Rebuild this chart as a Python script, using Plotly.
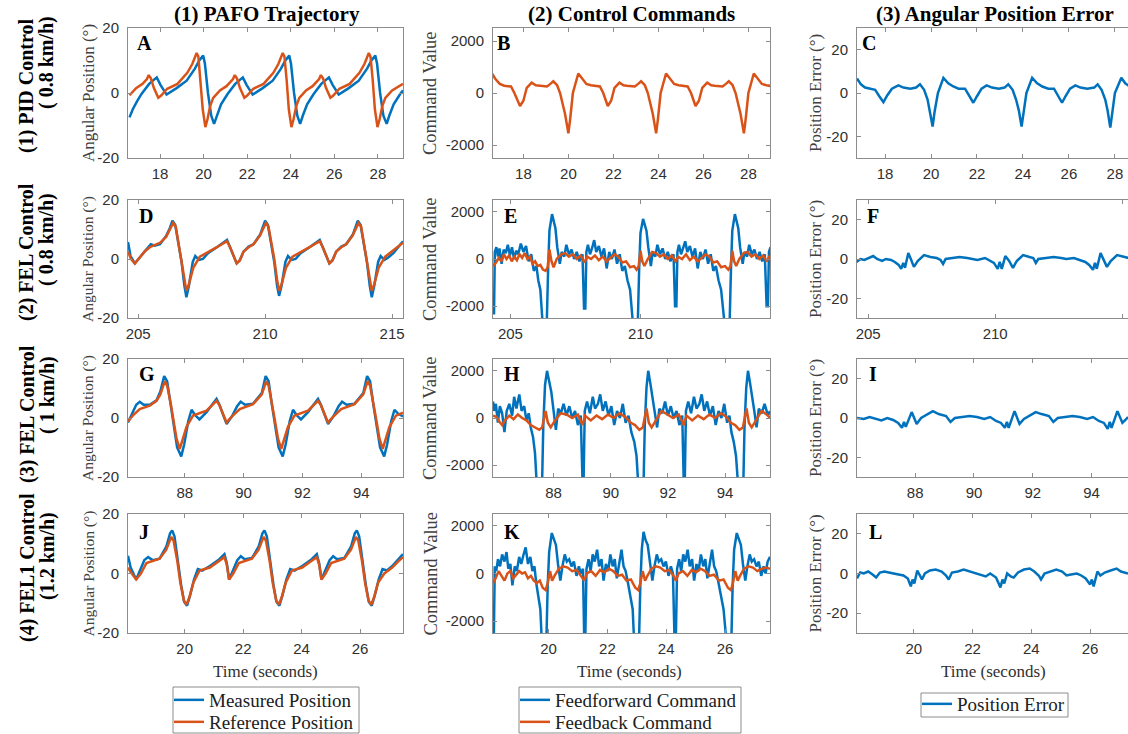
import plotly.graph_objects as go

W, H = 1128, 734
BLUE = "#0072BD"
ORANGE = "#D95319"
SERIF = "Liberation Serif, Times New Roman, serif"
SANS = "Liberation Sans, Arial, sans-serif"

# ---------------- data (time, value) ----------------
A_meas = [(16.60,-7.5),(16.75,-5),(16.95,-2.5),(17.15,-0.3),(17.50,2.8),(17.85,4.8),(18.02,2.5),(18.30,-0.5),
          (18.76,1.5),(19.22,3.8),(19.60,7.5),(19.80,10),(19.98,11.5),(20.06,9),(20.20,0),(20.35,-7),(20.48,-9.5),
          (20.60,-7),(20.80,-3.5),(21.10,-0.3),(21.45,2.8),(21.80,4.8),(21.97,2.5),(22.25,-0.5),(22.71,1.5),(23.17,3.8),
          (23.55,7.5),(23.75,10),(23.93,11.5),(24.01,9),(24.15,0),(24.30,-7),(24.43,-9.5),(24.55,-7),(24.75,-3.5),
          (25.05,-0.3),(25.40,2.8),(25.75,4.8),(25.92,2.5),(26.20,-0.5),(26.66,1.5),(27.12,3.8),(27.50,7.5),(27.70,10),
          (27.88,11.5),(27.96,9),(28.10,0),(28.25,-7),(28.40,-9.5),(28.52,-7),(28.72,-3.5),(29.02,-0.3),(29.15,0.8)]
A_ref = [(16.60,-0.7),(16.90,1.5),(17.20,2.8),(17.40,4.3),(17.48,5.5),(17.58,4.5),(17.72,1.5),(17.92,-1.5),(18.05,-0.8),
         (18.33,1.3),(18.80,2.8),(19.25,6.2),(19.48,8.9),(19.68,12.3),(19.76,11.2),(19.86,4),(19.96,-5),(20.08,-10.5),
         (20.18,-8),(20.30,-4),(20.44,-1.5),(20.75,0.8),(21.05,2.1),(21.35,4.3),(21.43,5.5),(21.53,4.5),(21.67,1.5),
         (21.87,-1.5),(22.00,-0.8),(22.28,1.3),(22.75,2.8),(23.20,6.2),(23.43,8.9),(23.63,12.3),(23.71,11.2),(23.81,4),
         (23.91,-5),(24.03,-10.5),(24.13,-8),(24.25,-4),(24.39,-1.5),(24.70,0.8),(25.00,2.1),(25.30,4.3),(25.38,5.5),
         (25.48,4.5),(25.62,1.5),(25.82,-1.5),(25.95,-0.8),(26.23,1.3),(26.70,2.8),(27.15,6.2),(27.38,8.9),(27.58,12.3),
         (27.66,11.2),(27.76,4),(27.86,-5),(27.98,-10.5),(28.08,-8),(28.20,-4),(28.34,-1.5),(28.65,0.8),(28.95,2.1),(29.15,2.8)]
B_fb = [(16.60,760),(16.75,550),(16.95,350),(17.15,280),(17.45,250),(17.60,0),(17.85,-500),(18.00,-300),(18.15,200),
        (18.37,400),(18.55,300),(18.70,280),(19.05,250),(19.20,350),(19.33,450),(19.50,300),(19.63,0),(19.85,-800),
        (20.00,-1550),(20.08,-1000),(20.20,0),(20.44,750),(20.60,550),(20.80,350),(21.00,300),(21.40,250),(21.55,0),
        (21.75,-500),(21.90,-300),(22.05,200),(22.27,400),(22.45,300),(22.60,280),(22.95,250),(23.10,350),(23.23,450),
        (23.40,300),(23.53,0),(23.75,-800),(23.90,-1550),(23.98,-1000),(24.10,0),(24.34,750),(24.50,550),(24.70,350),
        (24.90,300),(25.30,250),(25.45,0),(25.65,-500),(25.80,-300),(25.95,200),(26.17,400),(26.35,300),(26.50,280),
        (26.85,250),(27.00,350),(27.13,450),(27.30,300),(27.43,0),(27.65,-800),(27.80,-1550),(27.88,-1000),(28.00,0),
        (28.24,750),(28.40,550),(28.60,350),(28.80,300),(29.10,250)]
C_err = [(16.78,6.7),(16.95,4),(17.13,2.5),(17.35,2),(17.57,1.5),(17.75,-1.5),(17.93,-4.2),(18.10,-1),(18.30,2),
         (18.58,3.5),(18.80,2.5),(19.10,2),(19.35,2.5),(19.52,4),(19.70,1.5),(19.85,-3),(19.95,-8),(20.07,-15.5),
         (20.15,-9),(20.30,0),(20.54,7),(20.75,4.5),(20.97,3),(21.20,2),(21.48,2),(21.65,-1),(21.84,-4.5),(22.00,-1.5),
         (22.20,2),(22.42,3.5),(22.65,2.5),(22.95,2),(23.20,2.5),(23.36,4),(23.55,1.5),(23.70,-3),(23.82,-8),
         (23.94,-15.5),(24.02,-9),(24.15,0),(24.40,7),(24.62,4.5),(24.84,3),(25.10,2),(25.35,2),(25.52,-1),(25.70,-4.5),
         (25.85,-1.5),(26.05,2),(26.28,3.5),(26.50,2.5),(26.80,2),(27.10,2.5),(27.25,4),(27.42,1.5),(27.58,-3),
         (27.68,-8),(27.80,-16),(27.88,-9),(28.00,0),(28.28,7),(28.45,4.5),(28.65,3),(28.75,2.5)]

D_meas = [(204.60,5.8),(204.70,1),(204.87,-1.5),(205.05,0.5),(205.30,3),(205.50,5),(205.65,4.5),(205.86,5),(206.10,7.8),
          (206.25,10.5),(206.35,13),(206.46,11.5),(206.60,4),(206.71,-1),(206.82,-9),(206.90,-13),(207.00,-9),(207.15,-1),
          (207.25,1),(207.40,-0.3),(207.55,0),(207.75,2),(208.10,4),(208.35,5.5),(208.50,6.5),(208.62,4),(208.88,-1.5),
          (209.00,-0.5),(209.15,2.5),(209.35,4.2),(209.54,5),(209.80,8.2),(209.92,11),(210.00,13),(210.11,11.5),
          (210.25,4),(210.36,-1),(210.47,-9),(210.55,-12.5),(210.65,-9),(210.80,-1),(210.90,1),(211.05,-0.3),(211.20,0),
          (211.40,2),(211.75,4),(212.00,5.5),(212.15,6.5),(212.27,4),(212.53,-1.5),(212.65,-0.5),(212.80,2.5),
          (213.00,4.2),(213.19,5),(213.45,8.2),(213.57,11),(213.65,13),(213.76,11.5),(213.90,4),(214.01,-1),
          (214.12,-9),(214.20,-13),(214.30,-9),(214.45,-1),(214.55,1),(214.70,-0.3),(214.85,0.5),(215.05,2),(215.43,6)]
D_ref = [(204.60,2.5),(204.72,0),(204.87,-1.5),(205.05,0.5),(205.25,2.5),(205.46,4),(205.86,5.5),(206.10,7.5),
         (206.25,10),(206.38,12.2),(206.48,11),(206.60,5),(206.71,0),(206.82,-7),(206.90,-10.8),(207.00,-8.5),
         (207.17,-3),(207.43,0.8),(207.70,2),(208.10,4),(208.35,5.3),(208.50,6),(208.62,4),(208.88,-1.5),(209.00,-0.5),
         (209.15,2.5),(209.35,4),(209.54,5),(209.80,8),(209.92,10.5),(210.03,12.2),(210.13,11),(210.25,5),(210.36,0),
         (210.47,-7),(210.55,-10.8),(210.65,-8.5),(210.82,-3),(211.08,0.8),(211.35,2),(211.75,4),(212.00,5.3),
         (212.15,6),(212.27,4),(212.53,-1.5),(212.65,-0.5),(212.80,2.5),(213.00,4),(213.19,5),(213.45,8),(213.57,10.5),
         (213.68,12.2),(213.78,11),(213.90,5),(214.01,0),(214.12,-7),(214.20,-10.8),(214.30,-8.5),(214.47,-3),
         (214.73,0.8),(215.00,2.5),(215.43,5.5)]
E_ff = [(204.33,-2300),(204.37,-2300),(204.40,300),(204.46,500),(204.52,100),(204.58,450),(204.66,-200),(204.74,400),
        (204.82,250),(204.90,600),(204.98,150),(205.06,500),(205.14,0),(205.22,350),(205.30,200),(205.40,650),
        (205.50,300),(205.60,550),(205.70,-100),(205.80,200),(205.90,-500),(206.00,-300),(206.07,-900),(206.15,-1300),
        (206.23,-2600),(206.40,-2600),(206.45,-400),(206.50,1200),(206.60,1900),(206.67,1500),(206.73,1300),
        (206.80,500),(206.90,-200),(206.97,300),(207.07,100),(207.15,600),(207.25,200),(207.35,400),(207.45,0),
        (207.55,300),(207.65,-100),(207.77,200),(207.83,-2100),(207.88,-2100),(207.92,300),(207.98,600),(208.06,200),
        (208.15,500),(208.22,800),(208.30,300),(208.40,550),(208.50,100),(208.60,450),(208.70,-400),(208.80,300),
        (208.90,0),(209.00,400),(209.10,-200),(209.20,200),(209.30,-500),(209.40,-300),(209.50,-900),(209.60,-1300),
        (209.70,-2600),(209.90,-2600),(209.95,-400),(210.00,1100),(210.10,1700),(210.17,1400),(210.23,1200),
        (210.30,500),(210.40,-300),(210.47,300),(210.57,100),(210.65,600),(210.75,200),(210.85,450),(210.95,0),
        (211.05,300),(211.15,-100),(211.27,200),(211.33,-2000),(211.38,-2000),(211.42,300),(211.48,600),(211.56,200),
        (211.65,500),(211.72,750),(211.80,300),(211.90,550),(212.00,100),(212.10,450),(212.20,-400),(212.30,300),
        (212.40,0),(212.50,400),(212.60,-200),(212.70,200),(212.80,-500),(212.90,-300),(213.00,-900),(213.10,-1300),
        (213.22,-2600),(213.43,-2600),(213.48,-400),(213.53,1200),(213.63,1900),(213.70,1500),(213.76,1300),
        (213.83,500),(213.93,-200),(214.00,300),(214.10,100),(214.18,600),(214.28,200),(214.38,400),(214.48,0),
        (214.58,300),(214.68,-100),(214.78,200),(214.85,-2000),(214.90,-2000),(214.94,300),(215.00,500)]
E_fb = [(204.33,-300),(204.45,-150),(204.55,50),(204.65,-100),(204.75,200),(204.85,0),(204.95,150),(205.05,-100),
        (205.15,100),(205.25,-50),(205.35,200),(205.45,50),(205.55,250),(205.65,0),(205.75,100),(205.85,-200),
        (205.95,-100),(206.05,-300),(206.15,-250),(206.25,-450),(206.35,-500),(206.43,-350),(206.50,400),(206.58,-100),
        (206.66,-350),(206.78,0),(206.95,200),(207.10,250),(207.25,100),(207.40,200),(207.55,0),(207.70,150),
        (207.85,-150),(207.95,100),(208.10,0),(208.25,150),(208.40,-50),(208.55,100),(208.70,-100),(208.85,50),
        (209.00,200),(209.15,100),(209.30,-150),(209.45,-100),(209.60,-350),(209.75,-300),(209.85,-450),(209.93,-300),
        (210.00,350),(210.07,-100),(210.15,-300),(210.28,0),(210.45,300),(210.60,250),(210.75,100),(210.90,200),
        (211.05,0),(211.20,150),(211.35,-100),(211.45,100),(211.60,0),(211.75,200),(211.90,-50),(212.05,100),
        (212.20,-100),(212.35,50),(212.50,200),(212.65,100),(212.80,-150),(212.95,-100),(213.10,-350),(213.25,-300),
        (213.38,-450),(213.46,-300),(213.53,350),(213.60,-100),(213.68,-300),(213.80,0),(213.97,250),(214.12,300),
        (214.27,100),(214.42,200),(214.57,0),(214.72,150),(214.85,-100),(214.95,100),(215.00,50)]
F_err = [(204.54,-1.5),(204.70,0),(204.85,-0.5),(205.00,0.5),(205.20,1.5),(205.35,0),(205.55,-1),(205.70,0),
         (205.90,-0.5),(206.05,-1.5),(206.20,-3),(206.30,-5),(206.38,-2),(206.45,-4.5),(206.58,3),(206.68,0),
         (206.80,-4),(206.95,-1),(207.20,2),(207.45,1),(207.70,0.5),(207.85,-0.5),(207.95,-2.5),(208.05,0),(208.30,0.5),
         (208.60,1),(208.90,0.5),(209.10,0),(209.30,-0.5),(209.60,0.5),(209.80,-1),(209.95,-2),(210.10,-5),
         (210.18,-1.5),(210.26,-5),(210.40,1.5),(210.55,-1),(210.70,-4.5),(210.85,-1),(211.10,2),(211.35,1),
         (211.50,0.5),(211.60,-2),(211.70,0),(212.00,0.5),(212.30,1),(212.60,0.5),(212.80,0),(213.10,0.5),
         (213.30,-0.5),(213.55,-1.5),(213.70,-3),(213.85,-5.5),(213.93,-2),(214.00,-5),(214.15,3),(214.25,0),
         (214.40,-4),(214.55,-1),(214.80,2),(215.10,1),(215.25,0.5)]

G_meas = [(86.07,-1.5),(86.20,1.5),(86.35,4.5),(86.47,5.5),(86.60,4.5),(86.81,4.5),(87.04,6),(87.17,9),(87.30,14.2),
          (87.40,12.5),(87.52,4),(87.62,-2),(87.74,-10),(87.88,-13),(87.98,-9),(88.12,-1),(88.23,2.8),(88.35,1),
          (88.50,-0.5),(88.74,2),(89.08,6.5),(89.18,4.5),(89.42,-2),(89.60,0.5),(89.78,4),(89.90,5.5),(90.05,4.5),
          (90.32,4.8),(90.62,8.5),(90.75,14.2),(90.85,12.5),(90.97,4),(91.07,-2),(91.19,-10),(91.33,-13),(91.43,-9),
          (91.57,-1),(91.68,2.8),(91.80,1),(91.95,-0.5),(92.19,2),(92.53,6.5),(92.63,4.5),(92.87,-2),(93.05,0.5),
          (93.23,4),(93.35,5.5),(93.50,4.5),(93.77,4.8),(94.07,8.5),(94.20,14.2),(94.30,12.5),(94.42,4),(94.52,-2),
          (94.64,-10),(94.78,-13),(94.88,-9),(95.02,-1),(95.13,2.8),(95.25,1.5),(95.42,0.5)]
G_ref = [(86.07,-1.2),(86.25,1),(86.47,3),(86.81,4.2),(87.04,5.8),(87.17,8),(87.32,12.5),(87.40,11),(87.52,5),
         (87.60,0),(87.72,-7),(87.83,-10.5),(87.92,-7.5),(88.06,-3),(88.28,0.8),(88.74,2.5),(89.08,5.8),(89.17,4.5),
         (89.42,-1.5),(89.60,0.5),(89.87,3),(90.32,4.7),(90.62,8),(90.77,12.5),(90.85,11),(90.97,5),(91.05,0),
         (91.17,-7),(91.28,-10.5),(91.37,-7.5),(91.51,-3),(91.73,0.8),(92.19,2.5),(92.53,5.8),(92.62,4.5),(92.87,-1.5),
         (93.05,0.5),(93.32,3),(93.77,4.7),(94.07,8),(94.22,12.5),(94.30,11),(94.42,5),(94.50,0),(94.62,-7),
         (94.73,-10.5),(94.82,-7.5),(94.96,-3),(95.18,0.8),(95.42,1.8)]
H_ff = [(85.88,700),(85.92,300),(85.98,600),(86.05,-200),(86.12,500),(86.20,200),(86.28,-600),(86.36,300),(86.45,600),
        (86.55,100),(86.62,900),(86.70,400),(86.80,1000),(86.88,300),(86.97,500),(87.05,-100),(87.13,200),(87.20,-400),
        (87.28,-800),(87.35,-1500),(87.40,-2600),(87.60,-2600),(87.64,-300),(87.70,1400),(87.77,2000),(87.85,1500),
        (87.92,1100),(88.00,300),(88.08,-500),(88.16,400),(88.25,200),(88.35,600),(88.45,100),(88.55,500),(88.65,0),
        (88.75,300),(88.85,-300),(88.95,100),(89.01,-2600),(89.05,-2600),(89.09,300),(89.17,700),(89.27,200),
        (89.37,900),(89.45,400),(89.55,600),(89.63,1000),(89.72,300),(89.82,700),(89.92,100),(90.02,500),(90.12,-300),
        (90.22,300),(90.32,0),(90.42,600),(90.52,-200),(90.62,100),(90.72,-600),(90.82,-1000),(90.90,-1600),
        (90.95,-2600),(91.15,-2600),(91.19,-300),(91.25,1300),(91.31,2000),(91.38,1500),(91.45,1000),(91.53,300),
        (91.62,-400),(91.70,400),(91.80,200),(91.90,700),(92.00,100),(92.10,500),(92.20,0),(92.30,300),(92.40,-300),
        (92.50,100),(92.55,-2600),(92.59,-2600),(92.63,300),(92.71,700),(92.81,200),(92.91,900),(93.00,400),
        (93.10,600),(93.18,1000),(93.27,300),(93.37,700),(93.47,100),(93.57,500),(93.67,-300),(93.77,300),(93.87,0),
        (93.97,600),(94.07,-200),(94.15,100),(94.22,-600),(94.30,-1000),(94.38,-1600),(94.44,-2600),(94.64,-2600),
        (94.68,-300),(94.74,1300),(94.80,2000),(94.87,1500),(94.94,1000),(95.02,300),(95.10,-400),(95.18,400),
        (95.28,200),(95.38,600),(95.50,100),(95.57,300)]
H_fb = [(85.88,100),(86.00,50),(86.10,-150),(86.20,-300),(86.30,-100),(86.45,100),(86.60,-50),(86.75,150),(86.90,0),
        (87.05,-100),(87.20,-300),(87.35,-400),(87.50,-500),(87.60,-400),(87.72,300),(87.80,-200),(87.90,-400),
        (88.05,-100),(88.25,200),(88.45,150),(88.65,0),(88.85,150),(89.01,-300),(89.10,100),(89.30,-100),(89.50,100),
        (89.70,-50),(89.90,150),(90.10,0),(90.30,200),(90.50,50),(90.70,-200),(90.85,-300),(91.00,-500),(91.12,-400),
        (91.25,400),(91.33,-200),(91.43,-400),(91.58,-100),(91.78,300),(91.98,150),(92.18,0),(92.38,150),(92.55,-300),
        (92.65,100),(92.85,-100),(93.05,100),(93.25,-50),(93.45,150),(93.65,0),(93.85,200),(94.05,50),(94.20,-200),
        (94.35,-300),(94.50,-500),(94.62,-400),(94.75,400),(94.83,-200),(94.93,-400),(95.08,-100),(95.28,300),
        (95.45,150),(95.57,0)]
I_err = [(86.02,0),(86.25,-0.5),(86.45,0.5),(86.65,-0.5),(86.85,-1.2),(87.05,0),(87.25,-1),(87.42,-2.5),(87.55,-5),
         (87.62,-2),(87.68,-4.5),(87.88,3),(87.97,0),(88.05,-3),(88.20,0),(88.60,3.5),(88.80,2),(89.05,1),(89.20,-2),
         (89.35,0),(89.60,0.5),(89.85,1),(90.10,0.5),(90.35,-0.5),(90.55,0.5),(90.75,-1.5),(90.92,-2.5),(91.05,-5),
         (91.12,-2),(91.18,-5),(91.38,3.5),(91.47,0),(91.55,-3),(91.70,-0.5),(92.10,3),(92.30,2),(92.55,1),(92.70,-2),
         (92.85,0),(93.10,0.5),(93.35,1),(93.60,0.5),(93.85,-0.5),(94.05,0.5),(94.25,-1.5),(94.42,-2.5),(94.55,-5.5),
         (94.62,-2),(94.68,-5),(94.88,3.5),(94.97,0),(95.05,-2.5),(95.15,-1),(95.24,0.5)]

J_meas = [(18.06,6),(18.15,2),(18.34,-2),(18.50,1.5),(18.62,4.5),(18.75,5.5),(18.90,4.5),(19.14,5),(19.37,9),
          (19.50,13.5),(19.57,14.5),(19.65,12.5),(19.78,3),(19.88,-4),(19.98,-9.5),(20.08,-10.8),(20.18,-7.5),
          (20.32,-2),(20.45,1.5),(20.60,1),(20.86,2.5),(21.15,4.5),(21.36,6.5),(21.44,3.5),(21.52,-2),(21.66,1),
          (21.80,4.5),(21.92,5.8),(22.05,4.8),(22.30,5.2),(22.53,9),(22.66,13.5),(22.73,14.5),(22.81,12.5),(22.94,3),
          (23.04,-4),(23.14,-9.5),(23.24,-10.8),(23.34,-7.5),(23.48,-2),(23.61,1.5),(23.76,1),(24.02,2.5),(24.31,4.5),
          (24.52,6.5),(24.60,3.5),(24.68,-2),(24.82,1),(24.96,4.5),(25.08,5.8),(25.21,4.8),(25.46,5.2),(25.69,9),
          (25.82,13.5),(25.89,14.5),(25.97,12.5),(26.10,3),(26.20,-4),(26.30,-9.5),(26.40,-10.8),(26.50,-7.5),
          (26.64,-2),(26.77,1.5),(26.92,1),(27.10,2.5),(27.30,4.5),(27.47,6.5)]
J_ref = [(18.06,2),(18.15,0.5),(18.34,-2),(18.50,0),(18.69,3.5),(19.14,5),(19.37,8),(19.54,12.3),(19.62,11),(19.75,4),
         (19.85,-3),(19.97,-9),(20.06,-10.5),(20.16,-8),(20.30,-3),(20.51,1),(20.86,2),(21.15,4),(21.36,5.5),(21.44,3),
         (21.52,-2),(21.66,0),(21.85,3.5),(22.30,5),(22.53,8),(22.70,12.3),(22.78,11),(22.91,4),(23.01,-3),(23.13,-9),
         (23.22,-10.5),(23.32,-8),(23.46,-3),(23.67,1),(24.02,2),(24.31,4),(24.52,5.5),(24.60,3),(24.68,-2),(24.82,0),
         (25.01,3.5),(25.46,5),(25.69,8),(25.86,12.3),(25.94,11),(26.07,4),(26.17,-3),(26.29,-9),(26.38,-10.5),
         (26.48,-8),(26.62,-3),(26.83,0),(27.10,2),(27.30,4),(27.47,5.5)]
K_ff = [(18.11,-2600),(18.14,-2600),(18.17,300),(18.22,100),(18.28,600),(18.35,300),(18.42,800),(18.50,500),(18.57,900),
        (18.63,200),(18.70,400),(18.77,-500),(18.85,300),(18.92,100),(19.00,700),(19.07,400),(19.15,800),(19.22,1100),
        (19.30,400),(19.38,700),(19.45,100),(19.52,300),(19.58,-400),(19.65,-900),(19.72,-1500),(19.76,-2600),
        (19.93,-2600),(19.97,-500),(20.02,900),(20.11,1700),(20.18,1400),(20.25,1200),(20.32,400),(20.40,-300),
        (20.47,300),(20.55,800),(20.62,500),(20.70,600),(20.78,300),(20.86,500),(20.95,-100),(21.03,300),(21.10,0),
        (21.17,200),(21.21,-2600),(21.25,-2600),(21.29,200),(21.36,600),(21.43,100),(21.50,800),(21.57,500),
        (21.65,1000),(21.72,300),(21.80,600),(21.87,-300),(21.95,400),(22.03,100),(22.10,800),(22.18,300),(22.25,600),
        (22.32,-200),(22.40,400),(22.48,1000),(22.55,300),(22.62,100),(22.70,-400),(22.78,-900),(22.86,-1500),
        (22.90,-2600),(23.08,-2600),(23.12,-500),(23.17,1000),(23.23,1750),(23.30,1400),(23.37,1200),(23.45,400),
        (23.53,-300),(23.60,300),(23.68,800),(23.75,500),(23.83,600),(23.91,300),(23.99,500),(24.08,-100),(24.16,300),
        (24.23,0),(24.28,-2600),(24.33,-2600),(24.37,200),(24.44,600),(24.51,100),(24.58,800),(24.65,500),(24.73,1000),
        (24.80,300),(24.88,600),(24.95,-300),(25.03,400),(25.10,100),(25.18,800),(25.26,300),(25.33,600),(25.40,-200),
        (25.48,400),(25.56,1000),(25.63,300),(25.70,100),(25.78,-400),(25.86,-900),(25.95,-1500),(26.03,-2600),
        (26.22,-2600),(26.26,-500),(26.31,1000),(26.40,1700),(26.47,1400),(26.54,1200),(26.61,400),(26.69,-300),
        (26.76,300),(26.84,800),(26.91,500),(26.99,600),(27.07,300),(27.15,500),(27.23,-100),(27.31,300),(27.38,0),
        (27.45,500),(27.53,700)]
K_fb = [(18.11,-400),(18.20,-200),(18.30,100),(18.40,-100),(18.50,-300),(18.60,0),(18.70,100),(18.80,-200),(18.90,-50),
        (19.00,100),(19.10,0),(19.20,50),(19.30,-200),(19.40,-100),(19.50,-300),(19.60,-400),(19.70,-300),(19.80,-600),
        (19.90,-700),(19.97,-400),(20.05,100),(20.12,-300),(20.20,-100),(20.35,200),(20.50,300),(20.65,250),(20.80,100),
        (20.95,150),(21.10,-100),(21.21,-300),(21.30,0),(21.45,100),(21.60,-100),(21.75,150),(21.90,50),(22.05,200),
        (22.20,100),(22.35,-100),(22.50,-50),(22.65,-300),(22.80,-250),(22.95,-600),(23.05,-700),(23.12,-400),
        (23.20,100),(23.28,-300),(23.36,-100),(23.50,200),(23.65,300),(23.80,250),(23.95,100),(24.10,150),(24.25,-100),
        (24.33,-300),(24.42,0),(24.57,100),(24.72,-100),(24.87,150),(25.02,50),(25.17,200),(25.32,100),(25.47,-100),
        (25.62,-50),(25.80,-300),(25.95,-250),(26.10,-600),(26.20,-700),(26.27,-400),(26.35,100),(26.43,-300),
        (26.51,-100),(26.65,200),(26.80,300),(26.95,250),(27.10,100),(27.25,200),(27.40,250),(27.53,200)]
L_err = [(18.07,-2.5),(18.18,0.5),(18.30,0),(18.45,1),(18.60,-0.5),(18.72,-2),(18.85,0.5),(19.00,1),(19.15,0.5),
         (19.30,0),(19.50,-0.5),(19.65,-1),(19.80,-2.5),(19.90,-6.5),(19.96,-3),(20.02,-5),(20.12,1.5),(20.22,-1),
         (20.28,-3),(20.38,0),(20.55,1.5),(20.75,2),(20.95,1),(21.10,-1),(21.19,-3),(21.30,0.5),(21.50,1),(21.70,2),
         (21.90,1),(22.10,0),(22.30,-1),(22.45,-1.5),(22.60,0),(22.80,-2),(22.95,-7),(23.02,-3),(23.08,-5),(23.18,0),
         (23.30,-1.5),(23.40,-2),(23.55,0.5),(23.75,2),(23.95,2.5),(24.10,1),(24.25,-1),(24.33,-3),(24.45,0),(24.65,1),
         (24.85,2),(25.05,1),(25.20,-1),(25.35,-0.5),(25.55,0),(25.70,-1),(25.85,-2.5),(26.00,-5.5),(26.06,-3),
         (26.12,-6.5),(26.25,1),(26.35,-1),(26.50,0.5),(26.70,1.5),(26.90,2.5),(27.05,1),(27.20,0.5),(27.29,0)]

# axis labels / ticks
col_titles = ["(1) PAFO Trajectory", "(2) Control Commands", "(3) Angular Position Error"]
row_line1 = ["(1) PID Control", "(2) FEL Control", "(3) FEL Control", "(4) FEL1 Control"]
row_line2 = ["( 0.8 km/h)", "( 0.8 km/h)", "( 1 km/h)", "(1.2 km/h)"]
letters = ["A", "B", "C", "D", "E", "F", "G", "H", "I", "J", "K", "L"]
ytitles = ["Angular Position (°)", "Command Value", "Position Error (°)"]
row_xticks = [[18, 20, 22, 24, 26, 28], [205, 210, 215], [88, 90, 92, 94], [20, 22, 24, 26]]
col_yticks = [[-20, 0, 20], [-2000, 0, 2000], [-20, 0, 20]]
col_yrange = [[-20, 20], [-2500, 2500], [-30, 30]]

# ---------------- layout geometry (pixels) ----------------
col_px = [(128, 403), (493, 770), (857, 1128)]
row_px = [(28, 158), (200, 318), (359, 477), (514, 633)]
xranges = [[16.53, 29.15], [16.65, 28.96], [16.78, 28.57],
           [204.6, 215.43], [204.33, 214.98], [204.56, 215.23],
           [86.07, 95.42], [85.88, 95.57], [86.02, 95.24],
           [18.06, 27.47], [18.11, 27.53], [18.07, 27.29]]

def px(x):
    return x / W

def py(y):
    return 1 - y / H

fig = go.Figure()

panels = {
    1: [(A_meas, BLUE), (A_ref, ORANGE)], 2: [(B_fb, ORANGE)], 3: [(C_err, BLUE)],
    4: [(D_meas, BLUE), (D_ref, ORANGE)], 5: [(E_ff, BLUE), (E_fb, ORANGE)], 6: [(F_err, BLUE)],
    7: [(G_meas, BLUE), (G_ref, ORANGE)], 8: [(H_ff, BLUE), (H_fb, ORANGE)], 9: [(I_err, BLUE)],
    10: [(J_meas, BLUE), (J_ref, ORANGE)], 11: [(K_ff, BLUE), (K_fb, ORANGE)], 12: [(L_err, BLUE)],
}
# one legend per entry, so each entry can sit exactly where the reference shows it
legend_info = {
    10: [("Measured Position", "legend"), ("Reference Position", "legend2")],
    11: [("Feedforward Command", "legend3"), ("Feedback Command", "legend4")],
    12: [("Position Error", "legend5")],
}

layout_axes = {}
for k in range(1, 13):
    r, c = (k - 1) // 3, (k - 1) % 3
    xs = "" if k == 1 else str(k)
    for i, (series, color) in enumerate(panels[k]):
        name, leg, show = "", "legend", False
        if k in legend_info:
            name, leg = legend_info[k][i]
            show = True
        fig.add_trace(go.Scatter(
            x=[p[0] for p in series], y=[p[1] for p in series], mode="lines",
            line=dict(color=color, width=2.5), xaxis="x" + xs, yaxis="y" + xs,
            name=name, legend=leg, showlegend=show, hoverinfo="skip"))
    common = dict(showline=True, linecolor="#8c8c8c", linewidth=1, mirror="ticks", ticks="inside",
                  ticklen=4, tickcolor="#8c8c8c", showgrid=False, zeroline=False,
                  tickfont=dict(family=SANS, size=15, color="#303030"))
    layout_axes["xaxis" + xs] = dict(common, domain=[px(col_px[c][0]), px(col_px[c][1])],
                                     range=xranges[k - 1], tickvals=row_xticks[r],
                                     ticktext=[str(v) for v in row_xticks[r]], anchor="y" + xs,
                                     ticklabelstandoff=2)
    layout_axes["yaxis" + xs] = dict(common, domain=[py(row_px[r][1]), py(row_px[r][0])],
                                     range=col_yrange[c], tickvals=col_yticks[c],
                                     ticktext=[str(v) for v in col_yticks[c]], anchor="x" + xs,
                                     ticklabelstandoff=5)
    if c == 2:
        # right border of the third column lies outside the visible picture
        layout_axes["yaxis" + xs]["mirror"] = False

ann = []
def add_text(x, y, text, size, color="black", angle=0, xanchor="center"):
    ann.append(dict(x=px(x), y=py(y), xref="paper", yref="paper", text=text, textangle=angle, showarrow=False,
                    xanchor=xanchor, yanchor="middle", font=dict(family=SERIF, size=size, color=color)))

# column titles
for x, t in zip([267, 631, 995], col_titles):
    add_text(x, 14, "<b>" + t + "</b>", 21)
# row labels
l1y = [86, 252, 414, 568]
l2y = [63, 240, 395, 556]
for r in range(4):
    add_text(27, l1y[r], "<b>" + row_line1[r] + "</b>", 20, angle=-90)
    add_text(47, l2y[r], "<b>" + row_line2[r] + "</b>", 20, angle=-90)
# y titles
ytx = [88, 430, 815]
ytsize = [15.5, 18.5, 17]
for r in range(4):
    yc = (row_px[r][0] + row_px[r][1]) / 2
    for c in range(3):
        add_text(ytx[c], yc, ytitles[c], 17 if (r == 0 and c == 0) else ytsize[c], color="#404040", angle=-90)
# panel letters
lx = [[135, 495, 860], [137, 502, 865], [137, 502, 867], [137, 502, 867]]
ly = [43, 216, 374, 532]
for k in range(12):
    r, c = k // 3, k % 3
    add_text(lx[r][c], ly[r], "<b>" + letters[k] + "</b>", 20, xanchor="left")
# time labels
for x in [265, 630, 993]:
    add_text(x, 671, "Time (seconds)", 17, color="#303030")

# legend frames (pixel boxes)
legend_boxes = [(173, 687, 359, 733), (519, 687, 741, 733), (921, 693, 1068, 717)]
shapes = [dict(type="rect", xref="paper", yref="paper", x0=px(x0), x1=px(x1), y0=py(y1), y1=py(y0),
               line=dict(color="#8c8c8c", width=1), fillcolor="white", layer="below")
          for (x0, y0, x1, y1) in legend_boxes]

legfont = dict(family=SERIF, size=19, color="#202020")
legcommon = dict(xanchor="left", yanchor="top", borderwidth=0, font=legfont, itemwidth=30,
                 bgcolor="rgba(0,0,0,0)", tracegroupgap=0)
fig.update_layout(
    width=W, height=H, margin=dict(l=0, r=0, t=0, b=0, autoexpand=False),
    paper_bgcolor="white", plot_bgcolor="white",
    annotations=ann, shapes=shapes,
    legend=dict(legcommon, x=px(169), y=py(681)),
    legend2=dict(legcommon, x=px(169), y=py(703)),
    legend3=dict(legcommon, x=px(515), y=py(681)),
    legend4=dict(legcommon, x=px(515), y=py(703)),
    legend5=dict(legcommon, x=px(917), y=py(685)),
    **layout_axes,
)
fig.write_html("out.html", config={"displayModeBar": False},
               post_script="document.body.style.margin='0px';")
